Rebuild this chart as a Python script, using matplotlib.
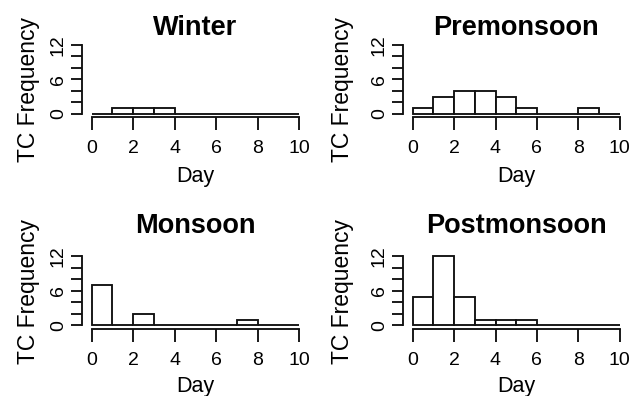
import matplotlib
matplotlib.use("Agg")
import matplotlib.pyplot as plt
import numpy as np

plt.rcParams['font.family'] = ['Liberation Sans', 'DejaVu Sans']

# Data: TC counts per day bin (0-1, 1-2, ..., 9-10)
day_edges = [0, 1, 2, 3, 4, 5, 6, 7, 8, 9, 10]
seasons = ["Winter", "Premonsoon", "Monsoon", "Postmonsoon"]
winter = [0, 1, 1, 1, 0, 0, 0, 0, 0, 0]
premonsoon = [1, 3, 4, 4, 3, 1, 0, 0, 1, 0]
monsoon = [7, 0, 2, 0, 0, 0, 0, 1, 0, 0]
postmonsoon = [5, 12, 5, 1, 1, 1, 0, 0, 0, 0]
counts = [winter, premonsoon, monsoon, postmonsoon]
x_ticks = [0, 2, 4, 6, 8, 10]
y_ticks = [0, 2, 4, 6, 8, 10, 12]
y_ticklabels = ["0", "", "", "6", "", "", "12"]

W, H = 634, 396
fig = plt.figure(figsize=(W / 100, H / 100), dpi=100)

# panel geometry in pixels: (x_left, x_right, y_top(12), y_zero(0))
panels = [
    (91.7, 299.0, 45.0, 114.0),
    (412.7, 619.7, 45.0, 114.0),
    (91.7, 299.0, 256.3, 325.3),
    (412.7, 619.7, 256.3, 325.3),
]
ylab_pos = [(28, 90), (342.5, 90), (28, 291), (342.5, 291)]
title_base = [35, 35, 232.7, 232.7]
day_base = [181.7, 181.7, 391.7, 391.7]

lw = 1.35
for i, (name, c) in enumerate(zip(seasons, counts)):
    xl, xr, yt, yz = panels[i]
    ax = fig.add_axes([xl / W, 1 - yz / H, (xr - xl) / W, (yz - yt) / H])
    ax.bar(day_edges[:-1], c, width=1, align='edge', facecolor='white',
           edgecolor='#111111', linewidth=lw, clip_on=False)
    ax.set_xlim(0, 10)
    ax.set_ylim(0, 12)
    ax.patch.set_visible(False)
    for s in ['top', 'right']:
        ax.spines[s].set_visible(False)
    ax.spines['left'].set_position(('outward', 6.8))
    ax.spines['bottom'].set_position(('outward', 2.4))
    ax.spines['left'].set_bounds(0, 12)
    ax.spines['bottom'].set_bounds(0, 10)
    for s in ['left', 'bottom']:
        ax.spines[s].set_linewidth(lw)
        ax.spines[s].set_color('#111111')
    ax.set_xticks(x_ticks)
    ax.set_yticks(y_ticks)
    ax.set_yticklabels(y_ticklabels, rotation=90, va='center')
    ax.tick_params(axis='x', length=9.1, width=lw, labelsize=14, pad=7.5,
                   color='#111111')
    ax.tick_params(axis='y', length=7.6, width=lw, labelsize=14, pad=3.5,
                   color='#111111')
    xc = (xl + xr) / 2
    fig.text(xc / W, 1 - title_base[i] / H, name, ha='center', va='baseline',
             fontsize=19.5, fontweight='bold')
    fig.text(xc / W, 1 - day_base[i] / H, "Day", ha='center', va='baseline',
             fontsize=15.5)
    lx, ly = ylab_pos[i]
    fig.text(lx / W, 1 - ly / H, "TC Frequency", ha='center', va='center',
             rotation=90, fontsize=16.5)

fig.savefig("out.png", dpi=100)
